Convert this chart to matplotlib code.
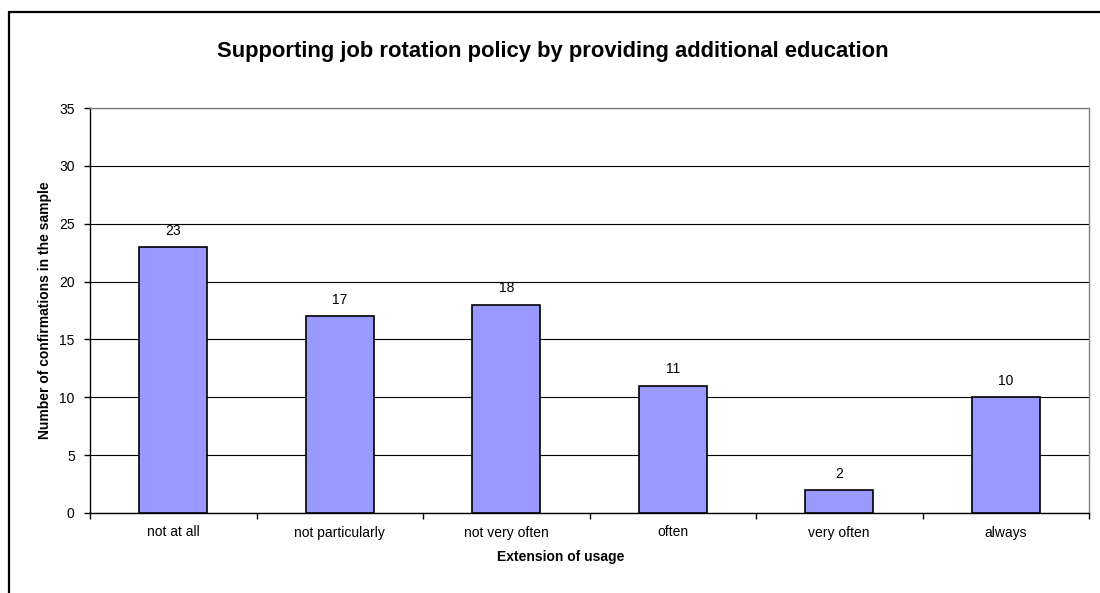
import matplotlib
matplotlib.use("Agg")
import matplotlib.pyplot as plt
from matplotlib.patches import Rectangle
import numpy as np

categories = ["not at all", "not particularly", "not very often", "often", "very often", "always"]
counts = [23, 17, 18, 11, 2, 10]
y_ticks = [0, 5, 10, 15, 20, 25, 30, 35]

plt.rcParams["font.family"] = ["Liberation Sans", "DejaVu Sans"]

fig = plt.figure(figsize=(11, 5.93), dpi=100)
ax = fig.add_axes([90 / 1100, 1 - 513 / 593, (1089 - 90) / 1100, (513 - 108) / 593])

x = np.arange(len(categories))
ax.bar(x, counts, width=0.41, color="#9999FF", edgecolor="black", linewidth=1.2, zorder=3)
for xi, v in zip(x, counts):
    ax.text(xi, v + 0.8, str(v), ha="center", va="bottom", fontsize=10, zorder=4)

ax.set_xlim(-0.5, len(categories) - 0.5)
ax.set_ylim(0, 35)
ax.set_yticks(y_ticks)
ax.yaxis.grid(True, color="black", linewidth=0.8, zorder=0)
ax.set_axisbelow(True)

ax.set_xticks(x)
ax.set_xticklabels(categories, fontsize=10)
ax.tick_params(axis="x", length=0, pad=9)
ax.set_xticks(np.arange(-0.5, len(categories)), minor=True)
ax.tick_params(axis="x", which="minor", length=4, width=1, direction="out")
ax.tick_params(axis="y", length=4, width=1, direction="out", labelsize=10, pad=7)

for side in ("top", "right"):
    ax.spines[side].set_color("#808080")
    ax.spines[side].set_linewidth(1.0)
for side in ("left", "bottom"):
    ax.spines[side].set_color("black")
    ax.spines[side].set_linewidth(1.0)

fig.text(553 / 1100, 1 - 52 / 593, "Supporting job rotation policy by providing additional education",
         ha="center", va="center", fontsize=15.8, fontweight="bold")
fig.text(561 / 1100, 1 - 557 / 593, "Extension of usage", ha="center", va="center",
         fontsize=10, fontweight="bold")
fig.text(45 / 1100, 1 - 310 / 593, "Number of confirmations in the sample", ha="center", va="center",
         rotation=90, fontsize=10, fontweight="bold")

# outer chart frame (open to the right and bottom)
fig.add_artist(Rectangle((8.5 / 1100, -0.1), 1.2, 1 - 12.5 / 593 + 0.1, transform=fig.transFigure,
                         fill=False, edgecolor="black", linewidth=1.6))

fig.savefig("out.png", dpi=100)
